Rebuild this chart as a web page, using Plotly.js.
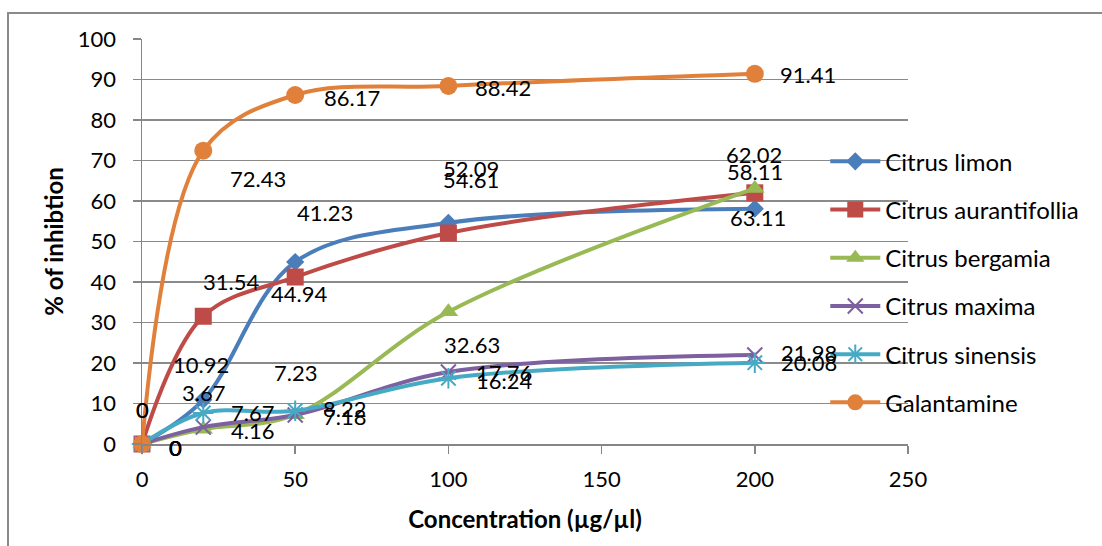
<!DOCTYPE html>
<html>
<head>
<meta charset="utf-8">
<script src="https://cdn.plot.ly/plotly-3.0.1.min.js"></script>
<style>html,body{margin:0;padding:0;background:#fff;}#chart{width:1102px;height:546px;}</style>
</head>
<body>
<div id="chart"></div>
<script>
// ---- data ----
const concentration = [0, 20, 50, 100, 200];
const seriesNames = ["Citrus limon", "Citrus aurantifollia", "Citrus bergamia", "Citrus maxima", "Citrus sinensis", "Galantamine"];
const citrusLimon = [0, 10.92, 44.94, 54.61, 58.11];
const citrusAurantifollia = [0, 31.54, 41.23, 52.09, 62.02];
const citrusBergamia = [0, 3.67, 7.23, 32.63, 63.11];
const citrusMaxima = [0, 4.16, 7.18, 17.76, 21.98];
const citrusSinensis = [0, 7.67, 8.22, 16.24, 20.08];
const galantamine = [0, 72.43, 86.17, 88.42, 91.41];
const yTicks = [0, 10, 20, 30, 40, 50, 60, 70, 80, 90, 100];
const xTicks = [0, 50, 100, 150, 200, 250];

// ---- styles (kept apart from data) ----
const colors = ["#4A7EBB", "#BE4B48", "#98B954", "#7D60A0", "#46AAC5", "#E0803A"];
const symbols = ["diamond", "square", "triangle-up", "x-thin-open", "asterisk-open", "circle"];
const sizes = [14, 17, 17, 15, 17, 18];
// data-label pixel offsets from each point (dx right, dy down)
const labelDx = [
  [0, -2, 4, 23, 0],
  [0, 28, 30, 23, -1],
  [33, 0, 0, 24, 3],
  [33, 49, 49, 56, 54],
  [33, 49, 49, 56, 54],
  [33, 55, 57, 55, 53]
];
const labelDy = [
  [-35, -35, 32, -43, -37],
  [-35, -35, -65, -65, -38],
  [3, -37, -42, 33, 29],
  [3, 3, 2, 0, -2],
  [3, 0, -2, 2, 0],
  [3, 28, 2, 2, 1]
];

const allValues = [citrusLimon, citrusAurantifollia, citrusBergamia, citrusMaxima, citrusSinensis, galantamine];

const traces = allValues.map((vals, i) => ({
  x: concentration,
  y: vals,
  name: seriesNames[i],
  type: "scatter",
  mode: "lines+markers",
  legendgroup: "g" + i,
  line: {color: colors[i], width: 4, shape: "spline", smoothing: 1},
  marker: {
    symbol: symbols[i], size: sizes[i], color: colors[i],
    line: {color: colors[i], width: (symbols[i].indexOf("open") >= 0 ? 2 : 0)}
  },
  cliponaxis: false
}));

const annotations = [];
allValues.forEach((vals, i) => {
  vals.forEach((v, j) => {
    annotations.push({
      x: concentration[j], y: v, xref: "x", yref: "y",
      text: String(v), showarrow: false,
      xanchor: "center", yanchor: "middle",
      xshift: labelDx[i][j], yshift: -labelDy[i][j],
      font: {family: "Lato, 'Open Sans', sans-serif", size: 22, color: "#000"}
    });
  });
});

const layout = {
  width: 1102, height: 546,
  margin: {l: 142, r: 194, t: 39, b: 102},
  paper_bgcolor: "#fff", plot_bgcolor: "#fff",
  font: {family: "Lato, 'Open Sans', sans-serif", color: "#000"},
  showlegend: true,
  legend: {
    x: 0.892, y: 0.7525, xanchor: "left", yanchor: "top",
    bgcolor: "rgba(0,0,0,0)", traceorder: "grouped", tracegroupgap: 14,
    font: {size: 24, color: "#000"}, itemwidth: 50
  },
  xaxis: {
    range: [0, 250], tickvals: xTicks, ticktext: xTicks.map(String),
    showgrid: false, zeroline: false, showline: true, linecolor: "#868686", linewidth: 1.5,
    ticks: "outside", ticklen: 8, tickcolor: "#868686", tickwidth: 1.5,
    ticklabelstandoff: 7,
    tickfont: {size: 22, color: "#000"},
    title: {text: "<b>Concentration (µg/µl)</b>", font: {size: 24, color: "#000"}, standoff: 20}
  },
  yaxis: {
    range: [0, 100], tickvals: yTicks, ticktext: yTicks.map(String),
    showgrid: true, gridcolor: "#8a8a8a", gridwidth: 1.3,
    zeroline: false, showline: true, linecolor: "#868686", linewidth: 1.5,
    ticks: "outside", ticklen: 8, tickcolor: "#868686", tickwidth: 1.5,
    ticklabelstandoff: 12,
    tickfont: {size: 22, color: "#000"},
    title: {text: "<b>% of inhibtion</b>", font: {size: 24, color: "#000"}, standoff: 7}
  },
  shapes: [{
    type: "rect", xref: "paper", yref: "paper",
    x0: (8 - 142) / 766, x1: 2, y0: -1, y1: (444 - 13) / 405,
    line: {color: "#8a8a8a", width: 2}, fillcolor: "rgba(0,0,0,0)", layer: "below"
  }],
  annotations: annotations
};

Plotly.newPlot("chart", traces, layout, {displayModeBar: false, staticPlot: true});
</script>
</body>
</html>
